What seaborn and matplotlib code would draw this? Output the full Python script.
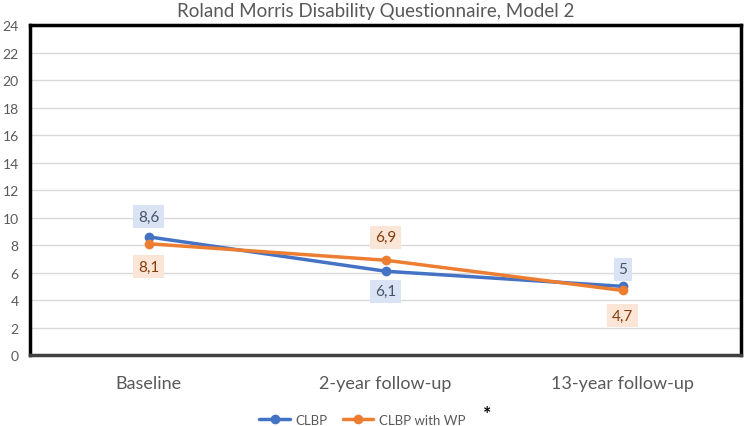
import matplotlib
matplotlib.use("Agg")
import matplotlib.pyplot as plt
import seaborn as sns
import pandas as pd
from matplotlib.lines import Line2D

categories = ["Baseline", "2-year follow-up", "13-year follow-up"]
clbp = [8.6, 6.1, 5.0]
clbp_wp = [8.1, 6.9, 4.7]
clbp_labels = ["8,6", "6,1", "5"]
clbp_wp_labels = ["8,1", "6,9", "4,7"]
series_names = ["CLBP", "CLBP with WP"]
y_ticks = list(range(0, 26, 2))

sns.set_theme(style="white")
plt.rcParams["font.family"] = ["Lato", "DejaVu Sans"]

df = pd.DataFrame({
    "x": list(range(len(categories))) * 2,
    "value": clbp + clbp_wp,
    "series": [series_names[0]] * 3 + [series_names[1]] * 3,
})

blue = "#4472C4"
orange = "#ED7D31"

fig = plt.figure(figsize=(7.44, 4.27), dpi=100)
ax = fig.add_axes([0.0403, 0.166, 0.956, 0.773])

sns.lineplot(data=df, x="x", y="value", hue="series", palette=[blue, orange],
             marker="o", markersize=7, markeredgewidth=0, linewidth=2.5, ax=ax,
             legend=False)

ax.set_xlim(-0.5, 2.5)
ax.set_ylim(0, 24)
ax.set_yticks(y_ticks)
ax.set_yticklabels([str(t) for t in y_ticks], color="#595959", fontsize=10)
ax.set_xticks(range(len(categories)))
ax.set_xticklabels(categories, color="#595959", fontsize=13)
ax.tick_params(axis="x", length=0, pad=14)
ax.tick_params(axis="y", length=0, pad=8)
ax.set_xlabel("")
ax.set_ylabel("")
ax.grid(axis="y", color="#d9d9d9", linewidth=1)
ax.set_axisbelow(True)
for side in ["left", "top", "right"]:
    ax.spines[side].set_color("black")
    ax.spines[side].set_linewidth(2.5)
ax.spines["bottom"].set_color("#404040")
ax.spines["bottom"].set_linewidth(2.5)

# data labels
blue_offsets = [20, -20, 17]
orange_offsets = [-23, 23, -25]
for i in range(len(categories)):
    ax.annotate(clbp_labels[i], (i, clbp[i]), xytext=(0, blue_offsets[i]),
                textcoords="offset pixels",
                ha="center", va="center", fontsize=11, color="#44546A",
                bbox=dict(boxstyle="square,pad=0.3", fc="#DAE3F3", ec="none"))
    ax.annotate(clbp_wp_labels[i], (i, clbp_wp[i]), xytext=(0, orange_offsets[i]),
                textcoords="offset pixels",
                ha="center", va="center", fontsize=11, color="#843C0C",
                bbox=dict(boxstyle="square,pad=0.3", fc="#FBE5D6", ec="none"))

fig.text(0.505, 0.972, "Roland Morris Disability Questionnaire, Model 2",
         ha="center", va="center", fontsize=13.5, color="#595959")

handles = [Line2D([0], [0], color=blue, lw=2.5, marker="o", markersize=7, markeredgewidth=0),
           Line2D([0], [0], color=orange, lw=2.5, marker="o", markersize=7, markeredgewidth=0)]
fig.legend(handles, series_names, loc="center", bbox_to_anchor=(0.487, 0.015),
           ncol=2, frameon=False, fontsize=9.5, labelcolor="#595959",
           handlelength=2.3, columnspacing=1.2, handletextpad=0.4)
fig.text(0.655, 0.03, "*", ha="center", va="center", fontsize=14, color="black",
         fontweight="bold")

fig.savefig("out.png", dpi=100)
